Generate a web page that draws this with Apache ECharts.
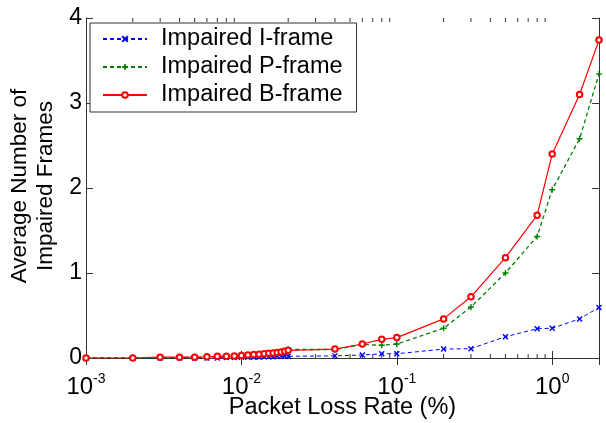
<!DOCTYPE html>
<html>
<head>
<meta charset="utf-8">
<script src="https://cdn.jsdelivr.net/npm/echarts@6/dist/echarts.min.js"></script>
<style>
  html, body { margin: 0; padding: 0; background: #fff; }
  #chart { width: 606px; height: 423px; }
</style>
</head>
<body>
<div id="chart"></div>
<script>
const lossRate = [0.001, 0.002, 0.003, 0.004, 0.005, 0.006, 0.007, 0.008, 0.009, 0.01,
  0.011, 0.012, 0.013, 0.014, 0.015, 0.016, 0.017, 0.018, 0.019, 0.02,
  0.04, 0.06, 0.08, 0.1, 0.2, 0.3, 0.5, 0.8, 1, 1.5, 2]

const iFrame = [0, 0, 0, 0, 0, 0, 0, 0.005, 0.005, 0.01,
  0.01, 0.01, 0.01, 0.015, 0.015, 0.015, 0.02, 0.02, 0.02, 0.02,
  0.025, 0.035, 0.05, 0.05, 0.105, 0.11, 0.25, 0.345, 0.35, 0.46, 0.595]

const pFrame = [0, 0, 0.005, 0.005, 0.01, 0.01, 0.015, 0.02, 0.02, 0.025,
  0.03, 0.035, 0.04, 0.045, 0.05, 0.06, 0.065, 0.075, 0.085, 0.1,
  0.1, 0.16, 0.15, 0.165, 0.35, 0.6, 1.0, 1.43, 1.98, 2.58, 3.34]

const bFrame = [0, 0, 0.01, 0.01, 0.01, 0.015, 0.02, 0.02, 0.025, 0.03,
  0.035, 0.04, 0.045, 0.05, 0.055, 0.06, 0.065, 0.07, 0.08, 0.09,
  0.105, 0.165, 0.22, 0.24, 0.46, 0.72, 1.18, 1.68, 2.4, 3.1, 3.74]

const seriesNames = ["Impaired I-frame", "Impaired P-frame", "Impaired B-frame"]
const yTicks = [0, 1, 2, 3, 4]

// minor ticks of the log axis (2..9 in each decade)
const minorTicks = []
for (let k = -3; k <= -1; k++) {
  for (let m = 2; m <= 9; m++) {
    minorTicks.push([+(m * Math.pow(10, k)).toPrecision(3), 0])
  }
}

const font = "'Liberation Sans', Arial, sans-serif"
const frameColor = "#333"

const pair = (ys) => lossRate.map((x, i) => [x, ys[i]])

const chart = echarts.init(document.getElementById("chart"))

const option = {
  animation: false,
  textStyle: { fontFamily: font },
  grid: { left: 86, right: 7, top: 18, bottom: 65, outerBoundsMode: "none", containLabel: false },
  legend: {
    data: seriesNames,
    orient: "vertical",
    left: 90,
    top: 23,
    padding: [4, 14, 5, 12],
    itemWidth: 44,
    itemHeight: 7,
    itemGap: 4,
    backgroundColor: "#fff",
    borderColor: frameColor,
    borderWidth: 1,
    textStyle: { fontSize: 23.5, color: "#000", lineHeight: 24, padding: [0, 0, 0, 9], fontFamily: font }
  },
  graphic: [{
    type: "text",
    x: 33,
    y: 186,
    rotation: Math.PI / 2,
    style: {
      text: "Average Number of\nImpaired Frames",
      fontSize: 22.5,
      fontFamily: font,
      fill: "#000",
      align: "center",
      verticalAlign: "middle",
      lineHeight: 26
    }
  }],
  xAxis: [{
    type: "log",
    logBase: 10,
    min: 0.001,
    max: 2,
    name: "Packet Loss Rate (%)",
    nameLocation: "middle",
    nameGap: 38,
    nameMoveOverlap: false,
    nameTextStyle: { fontSize: 23.5, color: "#000", fontFamily: font },
    axisLine: { lineStyle: { color: frameColor } },
    axisTick: { inside: true, length: 7, lineStyle: { color: frameColor } },
    splitLine: { show: false },
    axisLabel: {
      showMaxLabel: false,
      margin: 14,
      formatter: (v) => "{b|10}{s|" + Math.round(Math.log10(v)) + "}",
      rich: {
        b: { fontSize: 24, color: "#000", fontFamily: font },
        s: { fontSize: 14, color: "#000", fontFamily: font, padding: [0, 0, 16, 0] }
      }
    }
  }, {
    type: "log",
    logBase: 10,
    min: 0.001,
    max: 2,
    position: "top",
    axisLine: { lineStyle: { color: frameColor } },
    axisTick: { inside: true, length: 7, lineStyle: { color: frameColor } },
    axisLabel: { show: false },
    splitLine: { show: false }
  }],
  yAxis: [{
    type: "value",
    min: yTicks[0],
    max: yTicks[yTicks.length - 1],
    interval: 1,
    axisLine: { show: true, lineStyle: { color: frameColor } },
    axisTick: { show: true, inside: true, length: 7, lineStyle: { color: frameColor } },
    splitLine: { show: false },
    axisLabel: { fontSize: 23, color: "#000", margin: 4, fontFamily: font }
  }, {
    type: "value",
    position: "right",
    min: yTicks[0],
    max: yTicks[yTicks.length - 1],
    interval: 1,
    axisLine: { show: true, lineStyle: { color: frameColor } },
    axisTick: { show: true, inside: true, length: 7, lineStyle: { color: frameColor } },
    splitLine: { show: false },
    axisLabel: { show: false }
  }],
  series: [
    {
      name: seriesNames[0],
      type: "line",
      data: pair(iFrame),
      symbol: "path://M0,0L10,10M10,0L0,10",
      symbolSize: 5,
      lineStyle: { color: "#0000ff", width: 1, type: [4, 3] },
      itemStyle: { color: "#0000ff", borderColor: "#0000ff", borderWidth: 1.4 },
      z: 3
    },
    {
      name: seriesNames[1],
      type: "line",
      data: pair(pFrame),
      symbol: "path://M5,0L5,10M0,5L10,5",
      symbolSize: 6,
      lineStyle: { color: "#008000", width: 1.3, type: [4, 3] },
      itemStyle: { color: "#008000", borderColor: "#008000", borderWidth: 1.4 },
      z: 4
    },
    {
      name: seriesNames[2],
      type: "line",
      data: pair(bFrame),
      symbol: "emptyCircle",
      symbolSize: 5.5,
      lineStyle: { color: "#ff0000", width: 1.2 },
      itemStyle: { color: "#ff0000", borderColor: "#ff0000", borderWidth: 1.1 },
      z: 5
    },
    {
      name: "minor",
      type: "custom",
      silent: true,
      clip: false,
      z: 1,
      data: minorTicks,
      renderItem: function (params, api) {
        const x = api.value(0)
        const b = api.coord([x, yTicks[0]])
        const t = api.coord([x, yTicks[yTicks.length - 1]])
        return {
          type: "group",
          children: [
            { type: "line", shape: { x1: b[0], y1: b[1], x2: b[0], y2: b[1] - 4 }, style: { stroke: frameColor, lineWidth: 1 } },
            { type: "line", shape: { x1: t[0], y1: t[1], x2: t[0], y2: t[1] + 4 }, style: { stroke: frameColor, lineWidth: 1 } }
          ]
        }
      }
    }
  ]
}

chart.setOption(option)
</script>
</body>
</html>
